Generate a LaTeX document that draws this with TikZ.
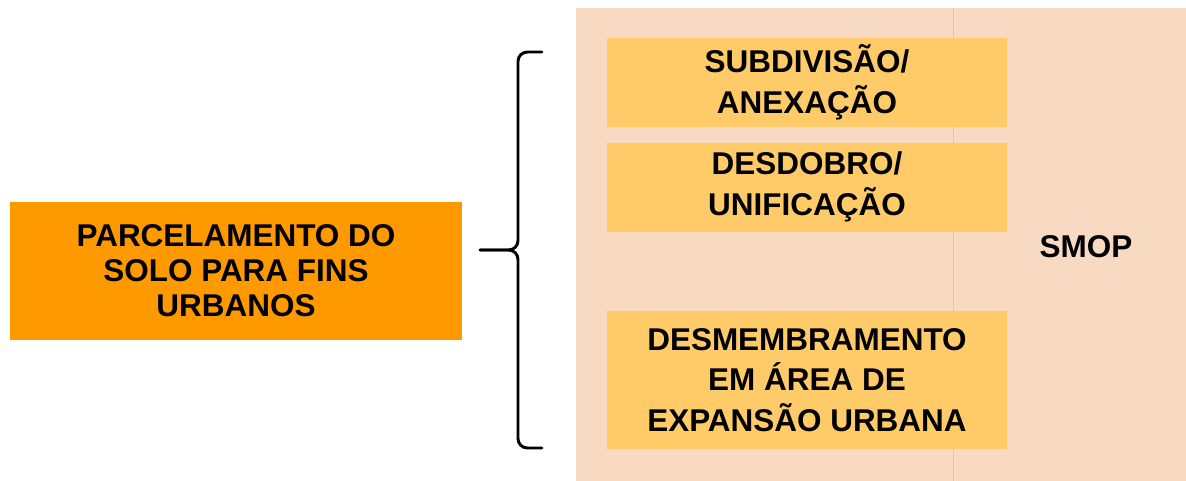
\documentclass[tikz,border=0pt]{standalone}
\usepackage{fontspec}
\setmainfont{Liberation Sans}
\usepackage{xcolor}
\usepackage{tikz}
\usetikzlibrary{positioning}

\definecolor{orangebox}{HTML}{FF9900}
\definecolor{peachbg}{HTML}{F8D9C1}
\definecolor{yellowbox}{HTML}{FFCB69}
\definecolor{peachline}{HTML}{F4BE98}

\begin{document}
\begin{tikzpicture}[x=0.75pt, y=-0.75pt, node distance=11.25pt]
        % Define styles
        \tikzset{
            mainbox/.style={rectangle, fill=orangebox, inner sep=0pt, minimum width=339pt, minimum height=103.5pt, align=center, font=\fontsize{23.6}{26.3}\selectfont\bfseries},
            typebox/.style={rectangle, fill=yellowbox, inner sep=0pt, minimum width=300pt, minimum height=66.75pt, align=center, font=\fontsize{23.6}{30.5}\selectfont\bfseries},
            bracket/.style={line width=2.2pt, line cap=round, rounded corners=7pt}
        }
        \useasboundingbox (0,0) rectangle (1186,481);

        % Background panel
        \fill [peachbg] (576,8) rectangle (1186,481);
        \draw [peachline, line width=0.75pt] (953,8) -- (953,481);

        % Create nodes
        \node [mainbox] (parcel) at (236,271) {PARCELAMENTO DO\\SOLO PARA FINS\\URBANOS};
        \node [typebox] (subdiv) at (807,82.5) {SUBDIVISÃO/\\ANEXAÇÃO};
        \node [typebox, below=of subdiv] (desdob) {DESDOBRO/\\UNIFICAÇÃO};
        \node [typebox, minimum height=103.5pt] (desmemb) at (807,380) {DESMEMBRAMENTO\\EM ÁREA DE\\EXPANSÃO URBANA};
        \node [font=\fontsize{23.6}{28}\selectfont\bfseries] (smop) at (1086,247) {SMOP};

        % Brace
        \coordinate (bracetop) at (542,52);
        \coordinate (bracebot) at (542,448);
        \coordinate (bracetip) at (480,250);
        \draw [bracket] (bracetop) -- (518,52) -- (518,250) -- (bracetip);
        \draw [bracket] (bracebot) -- (518,448) -- (518,250) -- (bracetip);
    \end{tikzpicture}
\end{document}
